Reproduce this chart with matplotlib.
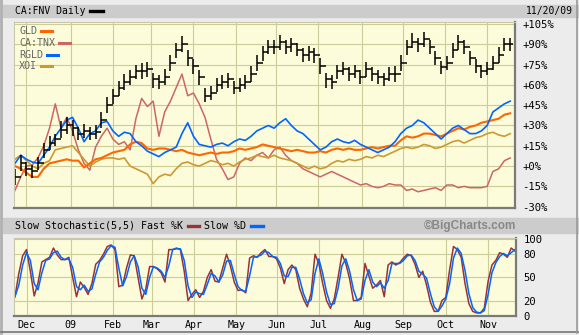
import matplotlib
matplotlib.use('Agg')
import matplotlib.pyplot as plt
import numpy as np
import pandas as pd
from matplotlib.patches import Rectangle
from matplotlib.lines import Line2D

days = pd.bdate_range('2008-11-21', '2009-11-20')
month_labels = ['Dec', '09', 'Feb', 'Mar', 'Apr', 'May', 'Jun', 'Jul', 'Aug', 'Sep', 'Oct', 'Nov']

# % change since start, one value every third trading day
fnv_close = [-8, 2, -2, -4, 2, 12, 17, 20, 27, 30,
             28, 24, 26, 24, 25, 34, 45, 52, 58, 62,
             66, 70, 70, 72, 64, 62, 66, 76, 86, 90,
             80, 74, 66, 52, 54, 60, 62, 64, 58, 60,
             62, 68, 76, 84, 88, 88, 92, 88, 90, 86,
             82, 84, 82, 74, 64, 62, 70, 72, 68, 70,
             66, 72, 68, 66, 64, 68, 68, 76, 88, 92,
             90, 94, 88, 80, 73, 76, 86, 92, 88, 80,
             74, 70, 72, 76, 82, 90, 90]
fnv_high = [-2, 8, 3, 1, 7, 17, 22, 24, 33, 36,
            34, 29, 31, 29, 30, 40, 51, 57, 63, 68,
            71, 75, 76, 77, 69, 67, 72, 82, 91, 96,
            86, 79, 71, 58, 59, 65, 67, 69, 63, 65,
            67, 74, 82, 89, 93, 93, 97, 93, 95, 91,
            87, 89, 87, 80, 69, 67, 75, 77, 73, 75,
            71, 77, 73, 71, 69, 73, 74, 82, 93, 98,
            95, 99, 93, 85, 78, 81, 91, 97, 93, 85,
            79, 75, 77, 81, 88, 95, 95]
fnv_low = [-14, -4, -7, -9, -3, 6, 12, 15, 21, 24,
           22, 19, 21, 19, 20, 28, 39, 46, 52, 56,
           60, 64, 64, 66, 58, 57, 60, 70, 80, 84,
           74, 68, 60, 47, 49, 55, 57, 58, 53, 55,
           57, 62, 70, 78, 83, 83, 86, 83, 84, 81,
           77, 78, 76, 68, 58, 57, 64, 67, 63, 65,
           61, 66, 63, 61, 59, 63, 62, 70, 82, 87,
           84, 88, 83, 75, 68, 71, 80, 86, 83, 75,
           69, 65, 67, 71, 76, 85, 85]
gld = [0, -2, -5, -8, -8, -2, 2, 3, 4, 5,
       4, 4, -1, 2, 5, 6, 8, 10, 11, 12,
       16, 18, 17, 13, 12, 13, 13, 12, 11, 12,
       10, 9, 8, 9, 10, 9, 10, 10, 11, 13,
       12, 13, 14, 16, 15, 14, 13, 12, 11, 12,
       11, 10, 10, 11, 10, 12, 13, 12, 13, 12,
       12, 13, 14, 13, 14, 15, 15, 19, 22, 21,
       22, 24, 24, 23, 22, 24, 26, 28, 27, 29,
       30, 32, 33, 34, 35, 38, 39]
tnx = [-18, -8, 0, 1, 6, 15, 28, 46, 28, 36,
       26, 12, 2, -3, 14, 22, 28, 20, 16, 18,
       12, 35, 50, 44, 48, 22, 40, 48, 58, 68,
       52, 54, 46, 36, 20, 5, -2, -10, -8, 2,
       6, 4, 8, 10, 6, 12, 14, 8, 4, 2,
       -2, -4, -6, -8, -6, -4, -6, -8, -10, -12,
       -14, -13, -15, -16, -15, -13, -14, -14, -18, -17,
       -19, -18, -17, -16, -18, -14, -14, -16, -15, -16,
       -16, -16, -15, -4, -2, 4, 6]
rgld = [2, 8, 5, 3, 2, 8, 14, 22, 28, 34,
        36, 28, 18, 24, 26, 32, 33, 26, 22, 25,
        24, 18, 15, 11, 9, 7, 10, 12, 14, 24,
        32, 22, 16, 15, 14, 16, 17, 15, 18, 20,
        19, 22, 26, 28, 30, 28, 32, 35, 30, 26,
        24, 20, 16, 12, 14, 18, 20, 18, 17, 19,
        16, 14, 12, 10, 12, 14, 18, 24, 28, 30,
        34, 32, 28, 24, 20, 24, 28, 30, 27, 24,
        24, 26, 30, 40, 43, 46, 48]
xoi = [5, 8, 4, 0, -2, 2, 4, 12, 13, 14,
       15, 10, 5, 0, 3, 5, 6, 6, 5, 6,
       0, -2, -4, -6, -13, -8, -6, -7, -2, 2,
       3, 1, 0, 2, 4, 3, 1, 2, 0, 3,
       5, 6, 8, 7, 6, 8, 6, 5, 4, 2,
       0, -2, 0, -2, -1, 2, 4, 3, 5, 4,
       5, 7, 6, 8, 7, 9, 11, 13, 14, 13,
       14, 16, 15, 13, 14, 16, 18, 19, 17, 19,
       21, 22, 24, 25, 23, 22, 24]

# slow stochastic (5,5), one value every second trading day
stoch_k = [25, 55, 78, 86, 58, 26, 43, 70, 73, 76,
           88, 79, 73, 73, 76, 50, 25, 44, 37, 28,
           42, 67, 72, 80, 90, 92, 86, 38, 40, 62,
           79, 78, 50, 22, 35, 64, 64, 61, 56, 44,
           86, 86, 88, 86, 58, 20, 28, 34, 24, 32,
           50, 60, 45, 44, 62, 80, 65, 44, 33, 34,
           30, 75, 78, 76, 82, 86, 77, 77, 74, 62,
           42, 60, 66, 60, 36, 22, 12, 30, 80, 68,
           42, 20, 10, 22, 50, 80, 68, 48, 20, 20,
           24, 68, 52, 36, 40, 46, 25, 66, 70, 66,
           69, 75, 80, 78, 67, 50, 58, 40, 18, 6,
           6, 20, 24, 60, 90, 86, 76, 42, 16, 6,
           4, 4, 10, 45, 66, 72, 82, 80, 76, 88,
           84]
stoch_d = [25, 40, 66, 82, 72, 42, 34, 56, 72, 74,
           82, 84, 76, 73, 74, 63, 38, 34, 40, 32,
           35, 54, 70, 76, 85, 91, 89, 62, 39, 51,
           70, 78, 64, 36, 28, 50, 64, 62, 58, 50,
           65, 86, 87, 87, 72, 39, 24, 31, 29, 28,
           41, 55, 52, 44, 53, 71, 72, 54, 38, 33,
           32, 52, 76, 77, 79, 84, 82, 77, 76, 68,
           52, 51, 63, 63, 48, 29, 17, 21, 55, 74,
           55, 31, 15, 16, 36, 65, 74, 58, 34, 20,
           22, 46, 60, 44, 38, 43, 36, 46, 68, 68,
           68, 72, 78, 79, 72, 58, 54, 49, 29, 12,
           6, 13, 22, 42, 75, 88, 81, 59, 29, 11,
           5, 4, 7, 28, 56, 69, 77, 81, 78, 82,
           86]

pct_ticks = [105, 90, 75, 60, 45, 30, 15, 0, -15, -30]
stoch_ticks = [100, 80, 50, 20, 0]

W, H = 579, 335
MONO = 'DejaVu Sans Mono'
BG = '#ececec'
BAR = '#cccccc'
PANEL = '#fcfcda'
GRID = '#cccc99'


def fx(x):
    return x / W


def fy(y):
    return 1 - y / H


fig = plt.figure(figsize=(W / 100, H / 100), dpi=100, facecolor=BG)

# grey title strips
for top, bot in [(5, 17), (218, 233)]:
    fig.patches.append(Rectangle((fx(3), fy(bot)), fx(576), (bot - top) / H,
                                 transform=fig.transFigure, color=BAR, zorder=0))
# outer bevel
fig.add_artist(Line2D([fx(1), fx(1)], [fy(0), fy(333)], color='#b0b0b0', lw=2))
fig.add_artist(Line2D([fx(1), fx(579)], [fy(332), fy(332)], color='#777777', lw=1.2))
fig.add_artist(Line2D([fx(577), fx(577)], [fy(0), fy(333)], color='#999999', lw=1.2))

month_pos = [i for i in range(1, len(days)) if days[i].month != days[i - 1].month]
x_main = np.arange(0, len(days), 3)[:len(fnv_close)]
x_stoch = np.arange(0, len(days), 2)[:len(stoch_k)]


def style_panel(ax):
    ax.set_facecolor(PANEL)
    ax.set_xlim(-0.5, len(days) - 0.5)
    ax.set_xticks(month_pos)
    ax.grid(True, color=GRID, lw=0.8)
    ax.set_axisbelow(True)
    for side in ['left', 'top']:
        ax.spines[side].set_color('#c8c8a8')
        ax.spines[side].set_linewidth(0.8)
    for side in ['right', 'bottom']:
        ax.spines[side].set_color('#7a7a7a')
        ax.spines[side].set_linewidth(1.6)
    ax.yaxis.tick_right()
    ax.tick_params(length=0)


# main price panel
ax = fig.add_axes([fx(14), fy(208), 501 / W, 186 / H])
style_panel(ax)
ax.set_ylim(-31, 106.5)
ax.set_yticks(pct_ticks)
ax.set_yticklabels(['%+d%%' % t if t != 0 else '+0%' for t in pct_ticks],
                   fontfamily=MONO, fontsize=7.6)
ax.tick_params(axis='y', pad=5.5)
ax.set_xticklabels([])

ax.plot(x_main, tnx, color='#cc6666', lw=1.1)
ax.plot(x_main, xoi, color='#cc9933', lw=1.2)
ax.plot(x_main, gld, color='#ff6600', lw=1.5)
ax.plot(x_main, rgld, color='#0066ff', lw=1.2)

# FNV bars: high-low stroke, open tick left (previous close), close tick right
fnv_open = [fnv_close[0]] + fnv_close[:-1]
ax.vlines(x_main, fnv_low, fnv_high, color='black', lw=1.1)
ax.hlines(fnv_close, x_main, x_main + 1.5, color='black', lw=1.1)
ax.hlines(fnv_open, x_main - 1.5, x_main, color='black', lw=1.1)

# legend inside panel
legend = [('GLD', '#ff6600', 41), ('CA:TNX', '#cc6666', 59),
          ('RGLD', '#0066ff', 47), ('XOI', '#cc9933', 41)]
for i, (name, col, sx) in enumerate(legend):
    y = 31 + i * 11.8
    fig.text(fx(19), fy(y), name, fontfamily=MONO, fontsize=7.2,
             color='#666666', va='center')
    fig.add_artist(Line2D([fx(sx), fx(sx + 11)], [fy(y), fy(y)], color=col, lw=2.2))

# stochastic panel
ax2 = fig.add_axes([fx(14), fy(316), 502 / W, 78 / H])
style_panel(ax2)
ax2.set_ylim(0, 101)
ax2.set_yticks(stoch_ticks)
ax2.set_yticklabels([str(t) for t in stoch_ticks], fontfamily=MONO, fontsize=7.6)
ax2.tick_params(axis='y', pad=5.5)
ax2.set_xticklabels(month_labels, fontfamily=MONO, fontsize=7.2)
ax2.tick_params(axis='x', pad=3)
ax2.plot(x_stoch, stoch_k, color='#993333', lw=1.1)
ax2.plot(x_stoch, stoch_d, color='#0066ff', lw=1.1)

# header texts
fig.text(fx(15), fy(11), 'CA:FNV Daily', fontfamily=MONO, fontsize=7, va='center')
fig.add_artist(Line2D([fx(90), fx(103)], [fy(11), fy(11)], color='black', lw=2.4))
fig.text(fx(573), fy(11), '11/20/09', fontfamily=MONO, fontsize=7, va='center', ha='right')

fig.text(fx(15), fy(226), 'Slow Stochastic(5,5) Fast %K', fontfamily=MONO,
         fontsize=7.2, va='center')
fig.add_artist(Line2D([fx(188), fx(199)], [fy(226), fy(226)], color='#993333', lw=2.4))
fig.text(fx(204), fy(226), 'Slow %D', fontfamily=MONO, fontsize=7.2, va='center')
fig.add_artist(Line2D([fx(251), fx(263)], [fy(226), fy(226)], color='#0066ff', lw=2.4))
fig.text(fx(516), fy(226), '\u00a9BigCharts.com', fontfamily='Liberation Sans',
         fontweight='bold', fontsize=8.5, color='#888888', va='center', ha='right')

fig.savefig('out.png', dpi=100, facecolor=BG)
